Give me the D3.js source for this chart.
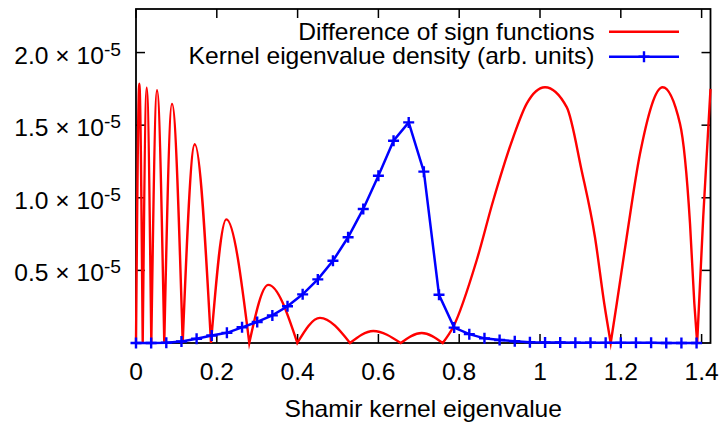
<!DOCTYPE html>
<html>
<head>
<meta charset="utf-8">
<script src="https://cdn.jsdelivr.net/npm/d3@7"></script>
<style>
  body { margin: 0; background: #fff; }
  svg { display: block; }
  text { font-family: "Liberation Sans", Arial, Helvetica, sans-serif; fill: #000; }
</style>
</head>
<body>
<svg id="chart" width="724" height="426"></svg>
<script>
// tick values (y in units of 1e-5)
const xTicks = [0, 0.2, 0.4, 0.6, 0.8, 1, 1.2, 1.4];
const yTicks = [0.5, 1.0, 1.5, 2.0];

// kernel eigenvalue density (arb. units), one marker per point
const blueX = [0, 0.0375, 0.075, 0.1125, 0.15, 0.1875, 0.225, 0.2625, 0.3, 0.3375,
               0.375, 0.4125, 0.45, 0.4875, 0.525, 0.5625, 0.6, 0.6375, 0.675, 0.7125,
               0.75, 0.7875, 0.825, 0.8625, 0.9, 0.9375, 0.975, 1.0125, 1.05, 1.0875,
               1.125, 1.1625, 1.2, 1.2375, 1.275, 1.3125, 1.35, 1.3875];
const blueY = [0, 0, 0.002, 0.010, 0.029, 0.052, 0.070, 0.108, 0.145, 0.190,
               0.253, 0.335, 0.438, 0.566, 0.728, 0.923, 1.152, 1.393, 1.519, 1.180,
               0.332, 0.106, 0.061, 0.032, 0.021, 0.012, 0.006, 0.004, 0.003, 0.002,
               0.002, 0.001, 0.001, 0.001, 0.001, 0, 0, 0];

// difference of sign functions (units of 1e-5); the zeros split it into arches
const redX = [0, 0.0082, 0.0166, 0.0265, 0.0379, 0.052, 0.070, 0.0891, 0.1156, 0.1455,
              0.1856, 0.2235, 0.2804, 0.3275, 0.3993, 0.4554, 0.5297, 0.5874, 0.6552, 0.7072,
              0.7592, 0.7854, 0.8433, 0.8844, 0.9339, 0.9671, 1.0124, 1.0661, 1.103, 1.136,
              1.159, 1.175, 1.190, 1.2146, 1.2475, 1.3037, 1.3465, 1.3713, 1.382, 1.389,
              1.404, 1.422];
const redY = [0, 1.785, 0, 1.758, 0, 1.741, 0, 1.647, 0, 1.369,
              0, 0.851, 0, 0.400, 0, 0.173, 0, 0.083, 0, 0.069,
              0, 0.112, 0.570, 0.983, 1.418, 1.648, 1.761, 1.624, 1.188, 0.730,
              0.272, 0, 0.272, 0.730, 1.303, 1.761, 1.510, 0.822, 0.272, 0,
              0.868, 1.75];

const svg = d3.select("#chart");
const pLeft = 136, pRight = 710.5, pTop = 9, pBottom = 343;
const fs = 23, stretch = 1.07;

let x = d3.scaleLinear().domain([0, 1.422]).range([pLeft, pRight]);
let y = d3.scaleLinear().domain([0, 2.3]).range([pBottom, pTop]);

// text helper, glyphs are a bit wide in the original
function addText(px, py, anchor, size) {
    return svg.append("text")
        .attr("transform", "translate(" + px + "," + py + ") scale(" + stretch + ",1)")
        .attr("text-anchor", anchor)
        .attr("font-size", size);
}

// frame
svg.append("rect")
    .attr("x", pLeft).attr("y", pTop)
    .attr("width", pRight - pLeft).attr("height", pBottom - pTop)
    .attr("fill", "none").attr("stroke", "#000").attr("stroke-width", 1.8);

// ticks, mirrored on all sides
const tl = 9;
xTicks.forEach(t => {
    svg.append("line").attr("x1", x(t)).attr("x2", x(t)).attr("y1", pBottom).attr("y2", pBottom - tl)
        .attr("stroke", "#000").attr("stroke-width", 1.5);
    svg.append("line").attr("x1", x(t)).attr("x2", x(t)).attr("y1", pTop).attr("y2", pTop + tl)
        .attr("stroke", "#000").attr("stroke-width", 1.5);
    addText(x(t), 380, "middle", fs).text(String(t));
});
yTicks.forEach(t => {
    svg.append("line").attr("x1", pLeft).attr("x2", pLeft + tl).attr("y1", y(t)).attr("y2", y(t))
        .attr("stroke", "#000").attr("stroke-width", 1.5);
    svg.append("line").attr("x1", pRight).attr("x2", pRight - tl).attr("y1", y(t)).attr("y2", y(t))
        .attr("stroke", "#000").attr("stroke-width", 1.5);
    let lbl = addText(121, y(t) + 11, "end", fs);
    lbl.append("tspan").text(d3.format(".1f")(t) + " \u00d7 10");
    lbl.append("tspan").attr("dy", -8).attr("font-size", 18).text("-5");
});

// axis label
addText((pLeft + pRight) / 2, 417, "middle", fs).text("Shamir kernel eigenvalue");

// red curve: each arch smoothed on its own, joined at the zeros
const redPts = redX.map((v, i) => [v, redY[i]]);
let arches = [], cur = [redPts[0]];
for (let i = 1; i < redPts.length; i++) {
    cur.push(redPts[i]);
    if (redPts[i][1] === 0) { arches.push(cur); cur = [redPts[i]]; }
}
if (cur.length > 1) arches.push(cur);

const archLine = d3.line().x(d => x(d[0])).y(d => y(d[1])).curve(d3.curveMonotoneX);
let redD = "";
arches.forEach((a, i) => {
    let s = archLine(a);
    if (i > 0) s = s.replace(/^M[^A-Za-z]*/, "");
    redD += s;
});
svg.append("path")
    .attr("d", redD)
    .attr("fill", "none")
    .attr("stroke", "#ff0000")
    .attr("stroke-width", 2.4)
    .attr("stroke-linejoin", "miter")
    .attr("stroke-miterlimit", 7);

// blue linespoints
const bluePts = blueX.map((v, i) => [v, blueY[i]]);
svg.append("path")
    .datum(bluePts)
    .attr("d", d3.line().x(d => x(d[0])).y(d => y(d[1])))
    .attr("fill", "none")
    .attr("stroke", "#0000ff")
    .attr("stroke-width", 2.5);

function plus(cx, cy) {
    svg.append("path")
        .attr("d", "M" + (cx - 5.5) + "," + cy + "H" + (cx + 5.5) + "M" + cx + "," + (cy - 5.5) + "V" + (cy + 5.5))
        .attr("stroke", "#0000ff").attr("stroke-width", 2.4).attr("fill", "none");
}
bluePts.forEach(d => plus(x(d[0]), y(d[1])));

// legend
addText(594.5, 39.5, "end", fs).text("Difference of sign functions");
svg.append("line").attr("x1", 609).attr("x2", 679).attr("y1", 31.7).attr("y2", 31.7)
    .attr("stroke", "#ff0000").attr("stroke-width", 2.4);
addText(594.5, 63.5, "end", fs).text("Kernel eigenvalue density (arb. units)");
svg.append("line").attr("x1", 609).attr("x2", 679).attr("y1", 56.7).attr("y2", 56.7)
    .attr("stroke", "#0000ff").attr("stroke-width", 2.5);
plus(644, 56.7);
</script>
</body>
</html>
